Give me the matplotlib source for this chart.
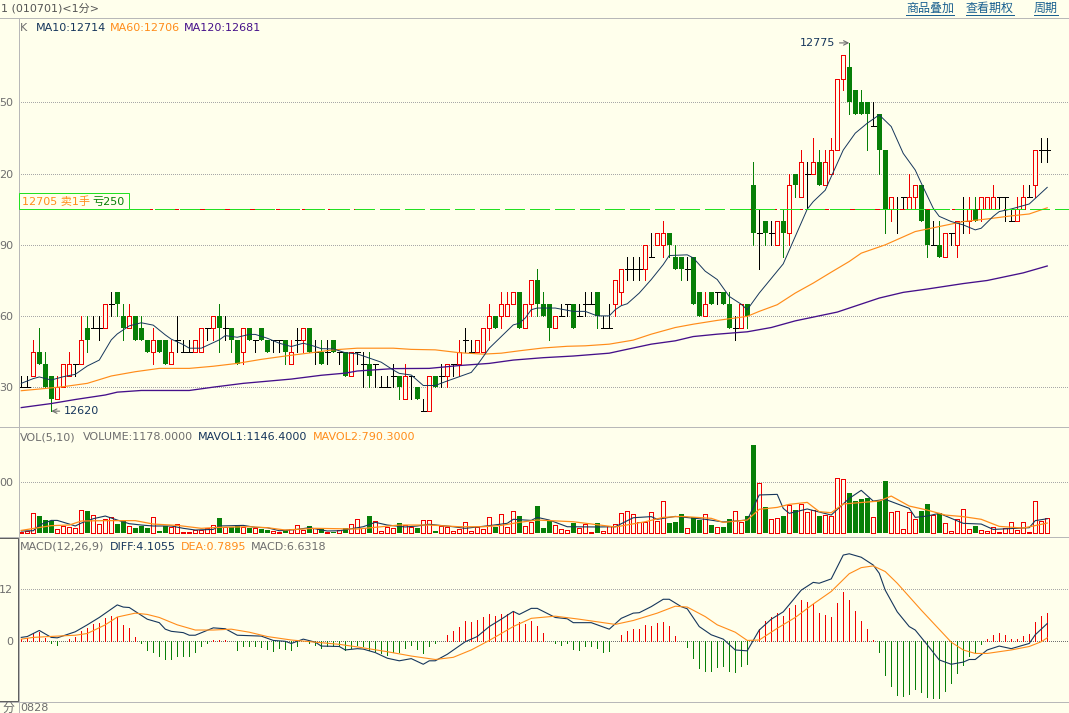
import matplotlib
matplotlib.use('Agg')
import matplotlib.pyplot as plt
from matplotlib.lines import Line2D
import numpy as np

# candles, one entry per minute bar
opens = [12630,12630,12635,12645,12640,12635,12625,12630,12635,12640,
         12640,12655,12655,12655,12655,12665,12670,12660,12655,12660,
         12655,12650,12645,12650,12650,12640,12650,12645,12645,12645,
         12645,12655,12655,12660,12655,12655,12650,12645,12655,12650,
         12655,12650,12650,12650,12650,12640,12650,12650,12655,12645,
         12645,12645,12650,12645,12645,12635,12645,12640,12640,12640,
         12630,12630,12635,12635,12625,12635,12630,12620,12620,12635,
         12635,12635,12640,12640,12650,12645,12645,12645,12655,12660,
         12660,12660,12665,12670,12655,12665,12675,12665,12665,12655,
         12660,12665,12665,12660,12665,12665,12670,12655,12655,12665,
         12670,12680,12680,12680,12680,12685,12690,12690,12695,12685,
         12685,12680,12685,12670,12660,12670,12670,12670,12665,12655,
         12655,12665,12715,12695,12700,12695,12690,12700,12695,12720,
         12710,12720,12720,12725,12715,12720,12730,12760,12765,12755,
         12750,12750,12740,12745,12730,12705,12705,12710,12705,12710,
         12715,12705,12690,12690,12685,12695,12690,12700,12700,12705,
         12705,12705,12705,12710,12710,12700,12700,12705,12710,12715,
         12730,12730]
closes = [12630,12630,12645,12640,12630,12625,12630,12640,12640,12640,
          12650,12650,12655,12655,12665,12665,12665,12655,12660,12650,
          12650,12645,12650,12645,12640,12645,12650,12645,12645,12650,
          12655,12655,12660,12655,12655,12650,12640,12655,12650,12650,
          12650,12645,12650,12650,12645,12645,12650,12655,12645,12645,
          12640,12645,12645,12645,12635,12645,12645,12640,12635,12640,
          12630,12630,12635,12630,12635,12635,12625,12620,12635,12630,
          12635,12640,12640,12645,12650,12645,12650,12655,12660,12655,
          12665,12665,12670,12655,12665,12675,12665,12660,12655,12660,
          12660,12665,12655,12660,12665,12665,12660,12655,12655,12675,
          12680,12680,12680,12680,12690,12685,12695,12695,12690,12680,
          12680,12680,12665,12660,12665,12665,12670,12665,12655,12655,
          12665,12660,12695,12695,12695,12695,12700,12695,12715,12715,
          12725,12720,12725,12715,12725,12730,12760,12770,12750,12745,
          12745,12745,12740,12730,12705,12710,12705,12710,12710,12715,
          12700,12690,12690,12685,12695,12695,12700,12700,12705,12700,
          12710,12710,12710,12710,12710,12700,12705,12710,12710,12730,
          12730,12730]
highs = [12635,12635,12650,12655,12645,12635,12635,12640,12645,12640,
         12660,12660,12660,12660,12665,12670,12670,12665,12665,12660,
         12660,12650,12655,12650,12650,12650,12660,12650,12650,12650,
         12655,12655,12660,12665,12660,12655,12650,12655,12655,12650,
         12655,12650,12650,12650,12650,12650,12655,12655,12655,12650,
         12650,12650,12650,12645,12645,12645,12645,12645,12645,12640,
         12635,12635,12640,12635,12640,12635,12630,12625,12635,12635,
         12640,12640,12640,12650,12655,12650,12650,12655,12665,12660,
         12670,12670,12670,12670,12665,12675,12680,12670,12665,12660,
         12665,12665,12665,12665,12670,12670,12670,12660,12665,12675,
         12680,12685,12685,12685,12690,12695,12695,12700,12695,12690,
         12685,12685,12685,12670,12670,12670,12670,12670,12670,12660,
         12665,12665,12725,12705,12700,12700,12700,12705,12720,12720,
         12730,12725,12735,12730,12730,12735,12760,12770,12775,12755,
         12755,12750,12750,12745,12730,12710,12710,12710,12720,12715,
         12715,12705,12700,12700,12695,12695,12700,12710,12710,12710,
         12710,12710,12715,12710,12710,12705,12710,12715,12715,12730,
         12735,12735]
lows = [12630,12630,12635,12640,12630,12620,12625,12630,12635,12635,
        12640,12645,12655,12650,12655,12660,12660,12650,12655,12650,
        12650,12645,12640,12645,12640,12640,12645,12645,12645,12645,
        12645,12650,12650,12645,12650,12645,12640,12640,12650,12645,
        12650,12645,12645,12645,12640,12640,12645,12645,12645,12640,
        12640,12640,12645,12640,12635,12635,12640,12630,12630,12630,
        12630,12630,12630,12625,12625,12625,12625,12620,12620,12630,
        12630,12630,12635,12635,12645,12645,12645,12645,12650,12655,
        12655,12660,12665,12655,12655,12660,12660,12660,12650,12655,
        12660,12660,12655,12660,12660,12665,12655,12655,12655,12660,
        12665,12675,12675,12675,12675,12685,12690,12685,12685,12680,
        12675,12675,12665,12660,12660,12665,12665,12665,12655,12650,
        12655,12655,12690,12680,12690,12690,12690,12685,12690,12710,
        12710,12705,12720,12715,12715,12720,12730,12755,12745,12745,
        12745,12730,12740,12720,12695,12700,12695,12705,12705,12705,
        12700,12685,12690,12685,12685,12690,12685,12695,12695,12700,
        12700,12705,12705,12705,12700,12700,12700,12705,12710,12710,
        12725,12725]

# moving averages, read at the line's visible corners
ma10_idx = [0,2,3,5,7,9,11,13,15,16,18,20,22,24,25,27,28,30,33,34,36,38,39,41,43,45,47,49,50,52,54,56,
            60,62,63,65,67,69,71,73,75,76,78,80,82,83,84,85,86,89,92,94,96,98,99,100,101,103,105,107,108,
            111,112,114,116,118,120,121,123,127,131,132,134,135,137,139,141,143,145,147,149,150,152,153,
            155,157,159,160,162,163,165,168,171]
ma10_val = [12631.7,12633.7,12634.4,12633.1,12634.5,12635.5,12639,12641.5,12650,12652.5,12655.9,12657.2,
            12656.2,12652.1,12650.3,12648,12646.5,12646.5,12650,12651.8,12651.1,12652.3,12652.3,12650.7,
            12648.6,12647.2,12648.6,12647.2,12646.3,12646.2,12644.6,12644.1,
            12640.6,12637.3,12635.9,12635.2,12630.8,12630.8,12632.7,12634.5,12636.3,12639.4,12646.5,
            12651.4,12656.3,12657,12659.2,12662.7,12663.4,12663.4,12662,12662,12660.1,12660.1,12662.7,
            12664.4,12665.2,12669.7,12675.4,12681.7,12685.5,12685.8,12684.5,12678.9,12675.4,12668.3,
            12665,12662.7,12669.7,12682,12705,12708.2,12713,12718.7,12729.9,12737,12741.2,12744.7,
            12739.8,12728.5,12721.5,12716,12705.4,12702,12699.8,12698.4,12696.3,12697,12702,12704,
            12705.1,12707.2,12714.2]
ma60_idx = [0,3,7,11,15,19,23,28,32,36,40,44,49,52,56,62,65,69,73,77,80,83,87,91,94,98,102,105,109,112,
            116,121,123,126,129,132,135,138,140,144,149,153,157,161,165,168,171]
ma60_val = [12628.6,12629.3,12630.3,12631.7,12634.8,12636.6,12638,12638,12638.9,12640.1,12641.8,12643.2,
            12644.8,12645.8,12646.5,12646.5,12646,12645.8,12644.6,12644,12644.4,12645.4,12646.6,12647.3,
            12647.5,12648.2,12649.9,12652.4,12655.2,12656.6,12658.2,12659.9,12662,12664.8,12669.7,
            12673.9,12678.5,12683,12686.5,12690,12695.6,12697.7,12699.8,12700.9,12702.2,12703,12705.6]
ma120_idx = [0,5,9,14,16,20,28,32,37,45,50,54,56,62,68,73,78,82,87,92,98,100,105,109,112,116,121,125,129,
             136,143,147,151,157,161,167,171]
ma120_val = [12621.5,12623.2,12624.9,12626.8,12628,12628.7,12628.7,12630.1,12631.7,12633.5,12635.1,12636,
             12636.9,12637.9,12638,12639.2,12640.1,12641.5,12642.5,12643.2,12644.4,12645.5,12648.2,
             12649.6,12651.4,12652.4,12653.4,12655.2,12658,12661.7,12667.6,12670,12671.4,12673.7,12675,
             12678.2,12681.1]

# volume panel
volume = [80,140,1590,1370,1040,990,270,550,470,380,
          1840,1780,1420,690,1100,1260,710,960,520,380,
          580,380,1260,140,520,470,740,80,50,220,
          190,410,600,1210,440,440,600,470,410,360,
          330,250,140,50,250,330,600,220,550,410,
          300,50,50,190,380,690,1100,360,1370,930,
          140,440,360,790,630,470,380,1010,1010,140,
          520,440,110,330,850,110,440,270,1260,490,
          1510,440,1750,1370,520,880,2190,380,990,600,
          270,190,770,410,690,50,790,140,580,690,
          1590,1750,1510,850,850,1670,930,2580,770,880,
          1530,360,1290,1040,1510,630,440,470,1120,1750,
          880,1370,7210,4060,2110,1100,1180,1370,2250,1860,
          2330,1670,1840,1370,1420,1340,4470,4380,3260,2600,
          2770,2850,1260,2600,4250,1670,1750,270,1670,1100,
          1780,2360,1420,1590,770,110,1100,1920,270,550,
          190,110,440,50,360,850,190,850,50,2580,
          930,1180]
mavol1_idx = [0,2,3,5,6,8,9,10,12,14,16,18,20,22,25,27,29,32,33,37,39,41,43,46,48,51,53,56,
              57,59,61,64,66,68,72,74,78,81,82,85,86,88,91,96,99,102,105,106,109,114,
              117,121,123,126,127,128,131,135,138,140,142,144,148,149,151,153,157,160,162,168,169,171]
mavol1_val = [140,160,630,1010,1010,710,550,790,1150,1370,1040,740,630,550,550,360,220,270,550,600,440,
              410,160,270,410,140,160,410,
              490,850,630,470,550,690,490,360,580,770,1100,1010,1260,1040,490,470,490,1230,1320,1100,
              1340,1100,
              880,1040,3100,3150,2000,1590,1950,1450,2820,3480,2600,2740,2000,1260,1370,1590,770,710,
              270,410,990,1146]
mavol2_idx = [0,5,8,10,14,19,22,26,30,33,38,41,44,49,56,
              63,68,73,77,80,83,86,92,99,104,107,110,115,
              117,121,123,126,128,131,133,135,137,143,145,148,151,154,157,160,163,167,171]
mavol2_val = [190,580,630,960,990,990,710,600,360,440,490,410,220,360,300,
              630,630,490,490,600,850,1040,900,470,900,1260,1340,1180,
              850,1040,1920,2080,2330,2490,1730,1640,2360,2600,3010,2190,1860,1450,1320,1100,520,380,790]

# MACD panel
macd_bar = [0.6,0.7,1.8,2.2,0.7,-0.3,-0.8,0,0.5,0.9,
            2.3,3,4,4.2,5.4,5.8,5.5,3.8,3.1,1,
            -0.3,-2,-2.4,-3.3,-4.2,-4.2,-3.3,-3.3,-3.3,-2.4,
            -1.2,-0.3,0.2,0.2,0.2,0,-2,-1.1,-1.2,-1.2,
            -1.4,-1.8,-2.2,-1.6,-1.7,-2,-1.2,0,-0.5,-0.8,
            -1.6,-1.2,-1.2,-1.2,-2,-1.6,-0.8,-1.2,-2,-2.2,
            -2.8,-3.2,-2.4,-2.4,-1.5,-0.8,-1.7,-2.6,-1.1,-0.5,
            0.1,1.5,2.4,3.3,4.7,4.5,4.9,5.6,6.3,5.8,
            6.3,6.3,6.9,4.5,4,4.7,3.5,1.9,0.1,-0.3,
            -0.8,-0.5,-1.7,-2,-1.2,-1.1,-1.5,-2.4,-2.2,0,
            1.5,2.4,2.8,2.8,3.8,3.5,4.2,4.5,3.5,1.2,
            0,-1.3,-3.8,-6.2,-6.8,-6.8,-6,-5.8,-6.8,-7.1,
            -5.6,-5.2,0,2.8,4.7,5.7,6.5,5.9,7.7,8.4,
            9.5,9.1,8.6,6.5,6.1,5.6,8.8,11.4,9.5,7,
            4.7,2.8,0.3,-2.5,-7.8,-10.3,-12.4,-12.6,-12.2,-11,
            -11.7,-12.8,-13.1,-13.1,-11.5,-9.6,-7.4,-5.5,-3.4,-2.5,
            -0.6,0.5,1.5,1.9,1.5,0.5,0.5,1.2,1.7,4.5,
            5.8,6.6]
diff_idx = [0,1,3,5,6,9,11,13,16,17,18,21,23,24,25,27,28,29,32,34,36,40,42,44,45,47,49,50,53,54,56,
            57,59,61,63,65,67,68,69,71,74,76,78,80,82,83,85,86,89,91,92,95,98,100,102,103,105,107,108,110,
            111,113,115,117,119,121,123,125,127,130,132,133,135,137,138,140,142,143,144,146,148,149,151,
            153,155,157,158,159,161,163,165,168,169,171]
diff_val = [0.9,1.1,2.5,0.9,0.8,2.2,3.8,5.5,8.4,7.9,7.8,5.1,4.3,2.8,2.3,2,1.4,1.4,3.1,2.9,1.4,1.2,0.2,0,
            -0.5,0.5,-0.2,-1.1,-1.2,-2,-1.7,
            -1.8,-2.6,-3.9,-4.5,-4,-5.3,-4.5,-4.5,-3,-0.1,1.1,3.4,5.1,6.9,6.2,7.6,7.6,5.5,5.2,4.3,4.3,2.8,
            5.3,6.5,6.6,8,9.7,9.7,8,7.5,3.4,1.5,0.5,-2,-2.2,2.6,5.1,6.8,11.8,13.6,13.4,14.4,19.9,20.2,
            19.4,17.6,15.7,11.8,6.8,3.4,2.6,-0.8,-4.3,-5.3,-4.8,-4.2,-4.2,-2,-1.1,-1.7,-0.5,1.5,4.1]
dea_idx = [0,2,6,9,11,14,16,19,21,23,26,29,32,35,38,41,45,49,53,56,
           61,65,69,72,75,78,82,85,89,93,99,102,106,109,111,114,116,
           119,121,123,126,129,132,135,138,140,142,144,146,150,155,157,159,161,165,168,170,171]
dea_val = [0.5,0.9,1.2,1.4,1.8,3.8,5.6,6.5,6.2,5.5,3.8,2.6,2.6,2.8,2.1,1.1,0.3,-0.2,-0.7,-1.3,
           -2.4,-3.4,-4.2,-3.7,-2,0.2,3.4,5.3,5.8,5.1,3.9,4.8,6.5,8.1,7.9,5.7,3.8,
           2.1,0.2,0.3,3,5.5,8.6,11.5,15.6,17,17.4,16.1,13.4,7.2,-0.2,-2,-2.8,-2.8,-2,-1.2,-0.1,0.8]

price_ticks = [12630, 12660, 12690, 12720, 12750]
price_tick_labels = ['30', '60', '90', '20', '50']
vol_ticks = [4200]
vol_tick_labels = ['00']
macd_ticks = [0, 12]
macd_tick_labels = ['0', '12']

W, H = 1069, 713
BG = '#FFFFEC'
RED = '#F00000'
GREEN = '#077F07'
NAVY = '#16365C'
ORANGE = '#FF8C1A'
PURPLE = '#45108A'
GREY = '#6E6E6E'
LINK = '#1A6090'
PX = 0.72  # one pixel in points

plt.rcParams['font.family'] = ['DejaVu Sans', 'Noto Sans CJK SC']
plt.rcParams['font.size'] = 8
plt.rcParams['lines.scale_dashes'] = False

fig = plt.figure(figsize=(W / 100, H / 100), dpi=100, facecolor=BG)


def panel(top, bottom):
    ax = fig.add_axes([18.7 / W, 1 - bottom / H, 1 - 18.7 / W, (bottom - top) / H], facecolor=BG)
    for s in ax.spines.values():
        s.set_visible(False)
    ax.set_xlim(-0.43, 174.63)
    ax.set_xticks([])
    ax.tick_params(axis='y', length=0, pad=4, labelcolor=GREY, labelsize=8)
    # dots every second pixel
    ax.yaxis.grid(True, color='#A8A8A8', linewidth=PX, linestyle=(0, (0.5, 0.94)), antialiased=False)
    ax.set_axisbelow(True)
    return ax


def label(x, y, s, color, **kw):
    fig.text(x / W, 1 - y / H, s, color=color, va='center', **kw)


def hbars(ax, x, base, top, up):
    # red hollow when up, solid green when down
    x, base, top, up = map(np.asarray, (x, base, top, up))
    ax.bar(x[~up], (top - base)[~up], bottom=base[~up], width=5 / 6, color=GREEN, linewidth=0,
           antialiased=False, zorder=3)
    ax.bar(x[up], (top - base)[up], bottom=base[up], width=4 / 6, facecolor=BG, edgecolor=RED,
           linewidth=PX, antialiased=False, zorder=3)


opens = np.array(opens)
closes = np.array(closes)
highs = np.array(highs)
lows = np.array(lows)
idx = np.arange(len(opens))
up = closes > opens
down = closes < opens
flat = closes == opens

# price panel
ax1 = panel(17.5, 427.3)
ax1.set_ylim(12613.2, 12785.7)
ax1.set_yticks(price_ticks, price_tick_labels)
ax1.vlines(idx[up], lows[up], highs[up], color=RED, linewidth=PX, antialiased=False, zorder=2)
ax1.vlines(idx[down], lows[down], highs[down], color=GREEN, linewidth=PX, antialiased=False, zorder=2)
ax1.vlines(idx[flat], lows[flat], highs[flat], color='black', linewidth=PX, antialiased=False, zorder=2)
ax1.hlines(closes[flat], idx[flat] - 0.42, idx[flat] + 0.42, color='black', linewidth=PX,
           antialiased=False, zorder=2)
bodies = ~flat
hbars(ax1, idx[bodies], np.minimum(opens, closes)[bodies], np.maximum(opens, closes)[bodies], up[bodies])
ax1.plot(ma120_idx, ma120_val, color=PURPLE, linewidth=0.95, zorder=4)
ax1.plot(ma60_idx, ma60_val, color=ORANGE, linewidth=0.85, zorder=4)
ax1.plot(ma10_idx, ma10_val, color=NAVY, linewidth=0.7, zorder=5)

# last price marker, green dashes with short red pieces in the gaps
ax1.plot([18.2, 174.63], [12705, 12705], color=RED, linewidth=PX, linestyle=(7, (3.6, 14.4)),
         antialiased=False, zorder=5)
ax1.plot([18.2, 174.63], [12705, 12705], color='#22E022', linewidth=PX, linestyle=(0, (13.7, 4.3)),
         antialiased=False, zorder=6)

ax1.annotate('12775', xy=(138, 12775), xytext=(-10, 0), textcoords='offset points', ha='right',
             va='center', color=NAVY, arrowprops=dict(arrowstyle='->', color=GREY, lw=0.8, shrinkA=1, shrinkB=0))
ax1.annotate('12620', xy=(5, 12620), xytext=(9, 0), textcoords='offset points', ha='left',
             va='center', color=NAVY, arrowprops=dict(arrowstyle='->', color=GREY, lw=0.8, shrinkA=1, shrinkB=0))

# volume panel
ax2 = panel(427.3, 536.7)
ax2.set_ylim(-329, 8660)
ax2.set_yticks(vol_ticks, vol_tick_labels)
hbars(ax2, idx, np.zeros(len(idx)), np.array(volume), closes >= opens)
ax2.plot(mavol1_idx, mavol1_val, color=NAVY, linewidth=0.8, zorder=4)
ax2.plot(mavol2_idx, mavol2_val, color=ORANGE, linewidth=0.9, zorder=5)

# MACD panel
ax3 = panel(536.7, 701.7)
ax3.set_ylim(-13.94, 24.14)
ax3.set_yticks(macd_ticks, macd_tick_labels)
ax3.get_ygridlines()[0].set_color('#707070')
macd_bar = np.array(macd_bar)
ax3.vlines(idx[macd_bar > 0], 0, macd_bar[macd_bar > 0], color=RED, linewidth=PX, antialiased=False, zorder=2)
ax3.vlines(idx[macd_bar < 0], 0, macd_bar[macd_bar < 0], color=GREEN, linewidth=PX, antialiased=False, zorder=2)
ax3.plot(diff_idx, diff_val, color=NAVY, linewidth=0.8, zorder=4)
ax3.plot(dea_idx, dea_val, color=ORANGE, linewidth=0.8, zorder=5)

# frame lines across the window
for y in [17.5, 427.3, 536.7, 701.7]:
    fig.add_artist(Line2D([0, 1], [1 - y / H] * 2, color='#B8B8B8', linewidth=PX))
fig.add_artist(Line2D([18.7 / W] * 2, [0, 1 - 17.5 / H], color='#B8B8B8', linewidth=PX))
fig.add_artist(Line2D([0, 17.5 / W, 17.5 / W, 0],
                      [1 - 537.5 / H, 1 - 537.5 / H, 1 - 700.7 / H, 1 - 700.7 / H],
                      color='#606060', linewidth=PX))

# header row
label(1, 8, '1 (010701)<1分>', '#555555')
for x0, x1, s in [(906, 954, '商品叠加'), (966, 1014, '查看期权'), (1034, 1058, '周期')]:
    label(x0, 8, s, LINK, fontsize=8.64)
    fig.add_artist(Line2D([x0 / W, x1 / W], [1 - 14.5 / H] * 2, color=LINK, linewidth=PX))

# panel legends
label(20, 28, 'K', GREY)
label(36, 28, 'MA10:12714', NAVY)
label(110, 28, 'MA60:12706', ORANGE)
label(184, 28, 'MA120:12681', PURPLE)
label(20, 437.5, 'VOL(5,10)', GREY)
label(83, 437.5, 'VOLUME:1178.0000', GREY)
label(198, 437.5, 'MAVOL1:1146.4000', NAVY)
label(313, 437.5, 'MAVOL2:790.3000', ORANGE)
label(20, 546.5, 'MACD(12,26,9)', GREY)
label(110, 546.5, 'DIFF:4.1055', NAVY)
label(181, 546.5, 'DEA:0.7895', ORANGE)
label(251, 546.5, 'MACD:6.6318', GREY)

# last price box
fig.add_artist(plt.Rectangle((18.7 / W, 1 - 209.5 / H), 110 / W, 16.5 / H, facecolor=BG,
                             edgecolor='#22E022', linewidth=PX, zorder=8))
label(22, 201.5, '12705 卖1手', ORANGE, zorder=9)
label(92, 201.5, '亏250', GREEN, zorder=9)

# bottom bar
label(2, 708, '分', GREY, fontsize=8.64)
label(20, 708, '0828', GREY)

fig.savefig('out.png', dpi=100, facecolor=BG)
